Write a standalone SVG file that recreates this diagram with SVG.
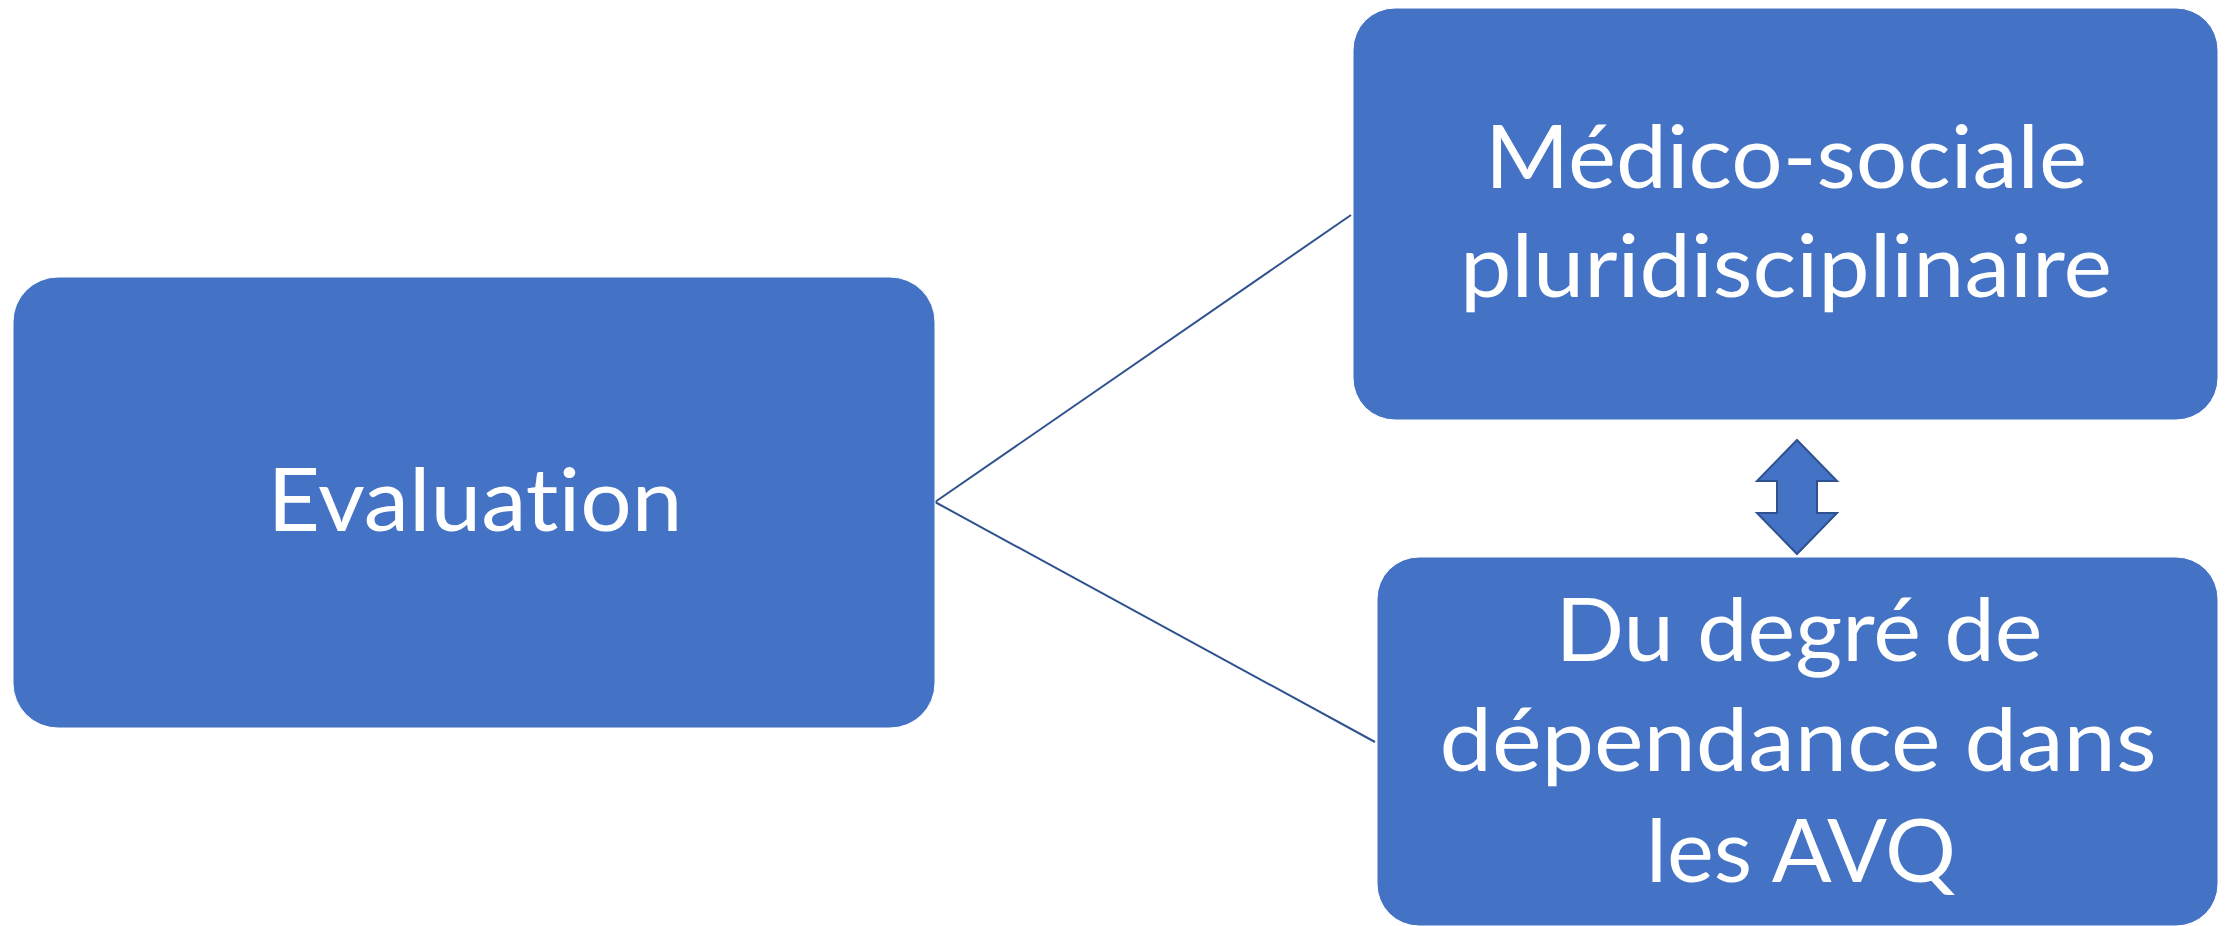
<svg xmlns="http://www.w3.org/2000/svg" width="2226" height="926" viewBox="0 0 2226 926">
<style>
.box{fill:#4472C4;stroke:#ffffff;stroke-width:1}
.lbl{fill:#ffffff;font-family:Lato,"Open Sans","Liberation Sans",sans-serif;font-size:88px;text-anchor:middle;font-variant-ligatures:none;font-feature-settings:"liga" 0,"clig" 0}
.conn{stroke:#2F528F;stroke-width:2;fill:none}
</style>
<rect width="2226" height="926" fill="#ffffff"/>
<g id="connectors">
<line class="conn" x1="935" y1="502" x2="1351" y2="215"/>
<line class="conn" x1="935" y1="502" x2="1375" y2="742"/>
</g>
<g id="node-evaluation">
<rect class="box" x="13" y="277" width="922" height="451" rx="45" ry="45"/>
<text class="lbl" x="475" y="531" textLength="415" lengthAdjust="spacingAndGlyphs">Evaluation</text>
</g>
<g id="node-medico">
<rect class="box" x="1353" y="8" width="865" height="412" rx="42" ry="42"/>
<text class="lbl" x="1786" y="188" textLength="602" lengthAdjust="spacingAndGlyphs">Médico-sociale</text>
<text class="lbl" x="1786" y="297" textLength="652" lengthAdjust="spacingAndGlyphs">pluridisciplinaire</text>
</g>
<g id="node-degre">
<rect class="box" x="1377" y="557" width="841" height="369" rx="42" ry="42"/>
<text class="lbl" x="1799" y="661" textLength="487" lengthAdjust="spacingAndGlyphs">Du degré de</text>
<text class="lbl" x="1798" y="771" textLength="717" lengthAdjust="spacingAndGlyphs">dépendance dans</text>
<text class="lbl" x="1801" y="882" textLength="310" lengthAdjust="spacingAndGlyphs">les AVQ</text>
</g>
<g id="node-arrow">
<polygon points="1797,440 1837,481 1817,481 1817,513 1837,513 1797,554 1757,513 1777,513 1777,481 1757,481" fill="#4472C4" stroke="#2F528F" stroke-width="2" stroke-linejoin="miter"/>
</g>
</svg>
